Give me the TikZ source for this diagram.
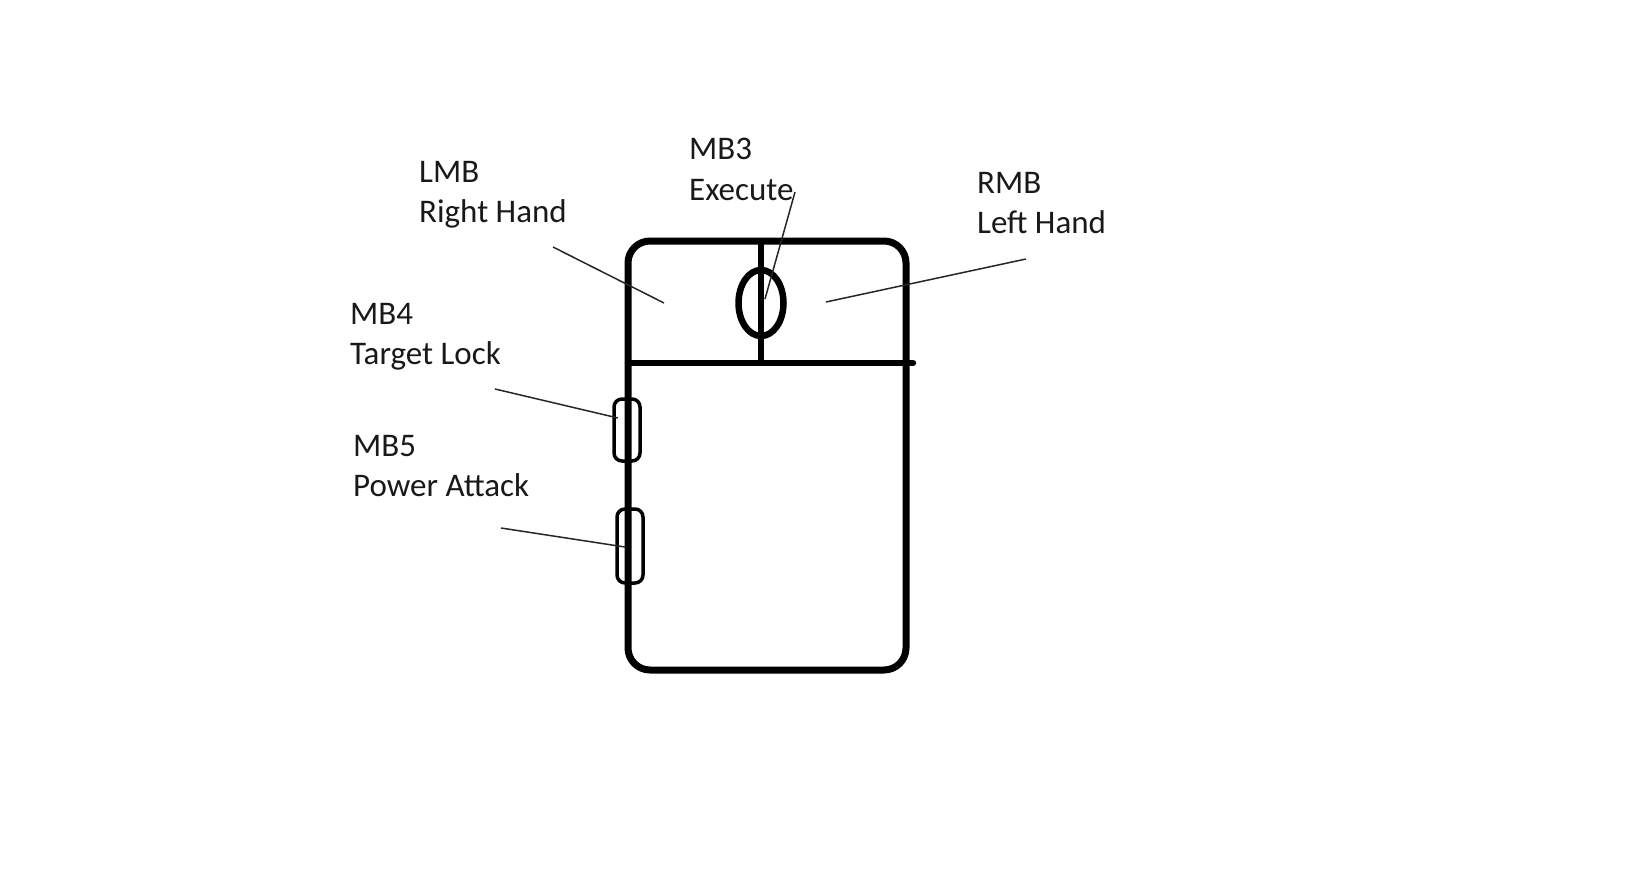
\documentclass[tikz,border=0pt]{standalone}
\usepackage{fontspec}
\setmainfont{Carlito}
\usetikzlibrary{shapes.geometric}
\tikzset{
  outline/.style={draw=black, line width=7pt, inner sep=0pt, outer sep=0pt, rounded corners=22pt},
  sidebtn/.style={draw=black, line width=3.5pt, inner sep=0pt, outer sep=0pt, rounded corners=8pt, minimum width=26pt},
  wheel/.style={draw=black, ellipse, line width=6.5pt, inner sep=0pt, minimum width=45pt, minimum height=66pt},
  divider/.style={line width=6.5pt, line cap=round},
  leader/.style={draw=black!85, line width=1.5pt},
  lbl/.style={anchor=base west, align=left, inner sep=0pt, font=\fontsize{33}{40}\selectfont, text=black!90}
}
\begin{document}
\begin{tikzpicture}[x=1pt,y=-1pt]
\useasboundingbox (0,0) rectangle (1646,888);
% mouse body
\node[outline, minimum width=278pt, minimum height=429pt] (body) at (767,455.5) {};
\coordinate (divL) at (628,363);
\coordinate (divR) at (913,363);
\coordinate (midT) at (761,241);
\coordinate (midB) at (761,366);
\draw[divider] (divL) -- (divR);
\draw[line width=6pt] (midT) -- (midB);
\node[wheel] (wheel) at (761,303) {};
\node[sidebtn, minimum height=62pt] (mb4btn) at (627,430) {};
\node[sidebtn, minimum height=74pt] (mb5btn) at (630,546) {};
% labels (base anchor = baseline of the second line)
\node[lbl] (lmb) at (419,222) {LMB\\Right Hand};
\node[lbl] (mb3) at (689,200) {MB3\\Execute};
\node[lbl] (rmb) at (977,233) {RMB\\Left Hand};
\node[lbl] (mb4) at (350,364) {MB4\\Target Lock};
\node[lbl] (mb5) at (353,496) {MB5\\Power Attack};
% leader endpoints
\coordinate (lmbA) at (553,247);
\coordinate (lmbB) at (664,303);
\coordinate (mb3A) at (795,192);
\coordinate (mb3B) at (765,299);
\coordinate (rmbA) at (1026,259);
\coordinate (rmbB) at (826,302);
\coordinate (mb4A) at (495,389);
\coordinate (mb4B) at (618,418);
\coordinate (mb5A) at (501,528);
\coordinate (mb5B) at (625,547);
\draw[leader] (lmbA) -- (lmbB);
\draw[leader] (mb3A) -- (mb3B);
\draw[leader] (rmbA) -- (rmbB);
\draw[leader] (mb4A) -- (mb4B);
\draw[leader] (mb5A) -- (mb5B);
\end{tikzpicture}
\end{document}
